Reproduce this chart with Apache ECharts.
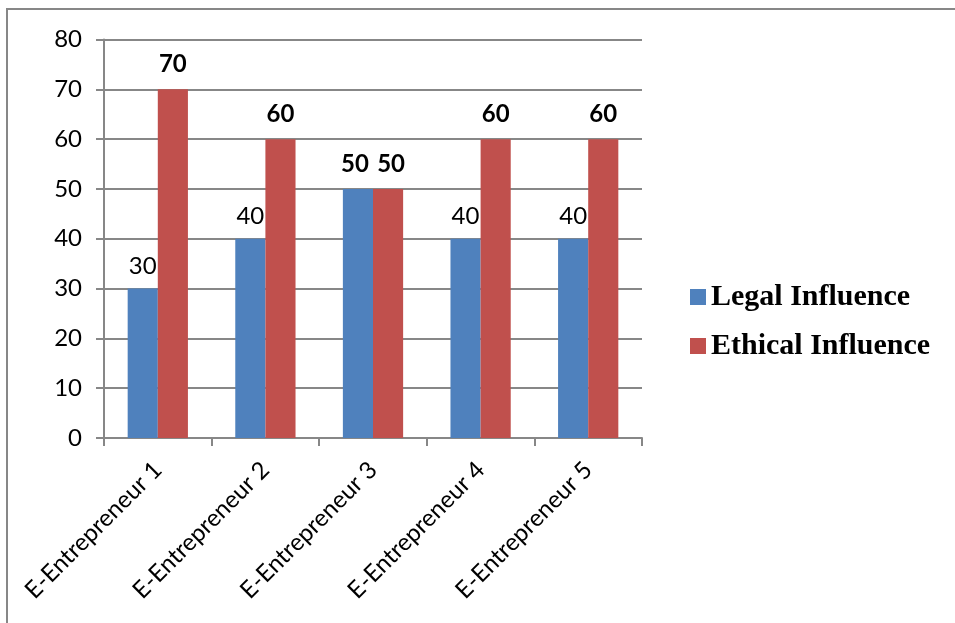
<!DOCTYPE html>
<html>
<head>
<meta charset="utf-8">
<script src="https://cdn.jsdelivr.net/npm/echarts@6/dist/echarts.min.js"></script>
<style>
  html, body { margin: 0; padding: 0; background: #fff; }
  #chart { width: 955px; height: 623px; }
</style>
</head>
<body>
<div id="chart"></div>
<script>
// Categories and values per series
const categories = ['E-Entrepreneur 1', 'E-Entrepreneur 2', 'E-Entrepreneur 3', 'E-Entrepreneur 4', 'E-Entrepreneur 5'];
const legalInfluence = [30, 40, 50, 40, 40];
const ethicalInfluence = [70, 60, 50, 60, 60];
const seriesNames = ['Legal Influence', 'Ethical Influence'];

const SANS = 'Lato, "Open Sans", sans-serif';
const SERIF = '"Liberation Serif", "DejaVu Serif", serif';
const GRAY = '#878787';

const normalLabel = { show: true, position: 'top', distance: 10, color: '#000', fontFamily: SANS, fontSize: 24, fontWeight: 'normal' };
const boldLabel = { show: true, position: 'top', distance: 13, color: '#000', fontFamily: SANS, fontSize: 24, fontWeight: 'bold' };

// Entrepreneur 3 has equal bars; both labels are bold and nudged apart a little
const PAIR = 2;
const legalData = legalInfluence.map((v, i) =>
  i === PAIR ? { value: v, label: Object.assign({}, boldLabel, { offset: [-3, 0] }) } : v);
const ethicalData = ethicalInfluence.map((v, i) =>
  i === PAIR ? { value: v, label: Object.assign({}, boldLabel, { offset: [3, 0] }) } : v);

const chart = echarts.init(document.getElementById('chart'), null, { renderer: 'canvas' });
chart.setOption({
  backgroundColor: '#fff',
  animation: false,
  graphic: [
    {
      type: 'polyline',
      shape: { points: [[7, 623], [7, 9], [955, 9]] },
      style: { stroke: GRAY, lineWidth: 2, fill: null },
      silent: true
    }
  ],
  grid: { left: 104, right: 313, top: 39.5, bottom: 185, containLabel: false },
  legend: {
    orient: 'vertical',
    left: 685,
    top: 275,
    itemWidth: 16,
    itemHeight: 16,
    itemGap: 15,
    icon: 'rect',
    data: seriesNames,
    textStyle: { fontFamily: SERIF, fontWeight: 'bold', fontSize: 30, color: '#000', lineHeight: 34 }
  },
  xAxis: {
    type: 'category',
    data: categories,
    axisLine: { lineStyle: { color: GRAY, width: 2 } },
    axisTick: { show: true, length: 8, lineStyle: { color: GRAY, width: 2 } },
    axisLabel: { rotate: 45, margin: 28, color: '#000', fontFamily: SANS, fontSize: 24, interval: 0 }
  },
  yAxis: {
    type: 'value',
    min: 0,
    max: 80,
    interval: 10,
    axisLine: { show: true, lineStyle: { color: GRAY, width: 2 } },
    axisTick: { show: true, length: 8, lineStyle: { color: GRAY, width: 2 } },
    splitLine: { show: true, lineStyle: { color: GRAY, width: 2 } },
    axisLabel: { margin: 22, color: '#000', fontFamily: SANS, fontSize: 24 }
  },
  series: [
    {
      name: seriesNames[0],
      type: 'bar',
      data: legalData,
      barGap: '0%',
      barCategoryGap: '44%',
      itemStyle: { color: '#4F81BD' },
      label: normalLabel
    },
    {
      name: seriesNames[1],
      type: 'bar',
      data: ethicalData,
      barGap: '0%',
      barCategoryGap: '44%',
      itemStyle: { color: '#C0504D' },
      label: boldLabel
    }
  ]
});
</script>
</body>
</html>
